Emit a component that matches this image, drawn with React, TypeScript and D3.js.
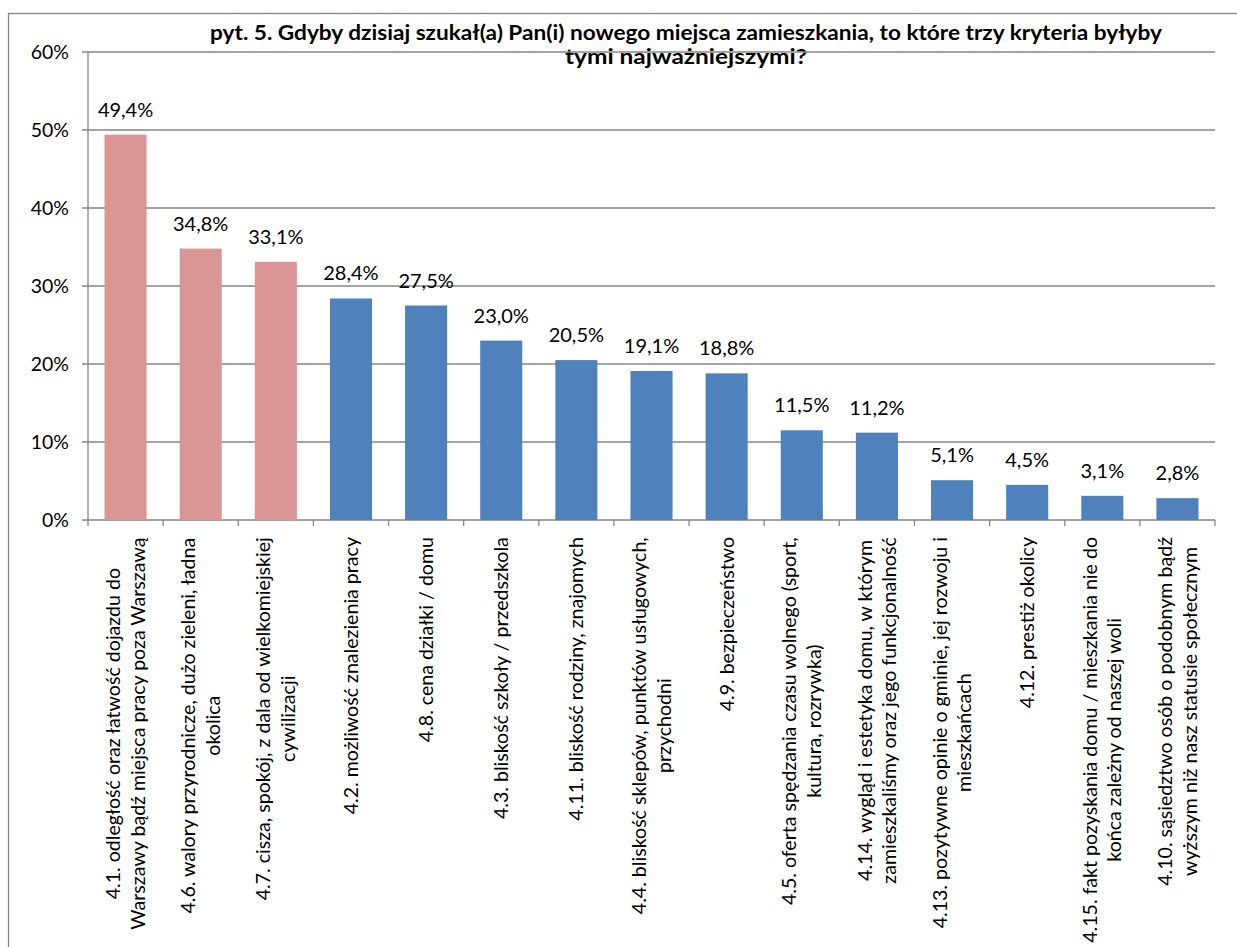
import React, { useMemo } from "react";
import * as d3 from "d3";

const titleLines = [
  "pyt. 5. Gdyby dzisiaj szukał(a) Pan(i) nowego miejsca zamieszkania, to które trzy kryteria byłyby",
  "tymi najważniejszymi?",
];

const categories: string[][] = [
  ["4.1. odległość oraz łatwość dojazdu do", "Warszawy bądź miejsca pracy poza Warszawą"],
  ["4.6. walory przyrodnicze, dużo zieleni, ładna", "okolica"],
  ["4.7. cisza, spokój, z dala od wielkomiejskiej", "cywilizacji"],
  ["4.2. możliwość znalezienia pracy"],
  ["4.8. cena działki / domu"],
  ["4.3. bliskość szkoły / przedszkola"],
  ["4.11. bliskość rodziny, znajomych"],
  ["4.4. bliskość sklepów, punktów usługowych,", "przychodni"],
  ["4.9. bezpieczeństwo"],
  ["4.5. oferta spędzania czasu wolnego (sport,", "kultura, rozrywka)"],
  ["4.14. wygląd i estetyka domu, w którym", "zamieszkaliśmy oraz jego funkcjonalność"],
  ["4.13. pozytywne opinie o gminie, jej rozwoju i", "mieszkańcach"],
  ["4.12. prestiż okolicy"],
  ["4.15. fakt pozyskania domu / mieszkania nie do", "końca zależny od naszej woli"],
  ["4.10. sąsiedztwo osób o podobnym bądź", "wyższym niż nasz statusie społecznym"],
];

const values = [49.4, 34.8, 33.1, 28.4, 27.5, 23.0, 20.5, 19.1, 18.8, 11.5, 11.2, 5.1, 4.5, 3.1, 2.8];
const highlighted = [true, true, true, false, false, false, false, false, false, false, false, false, false, false, false];
const yTicks = [0, 10, 20, 30, 40, 50, 60];

const FONT = "Lato, 'Open Sans', sans-serif";
const W = 1237;
const H = 947;
const plot = { left: 88, right: 1215, top: 52, bottom: 520 };
const labelTop = 537;
const labelFontSize = 19.6;
const lineHeight = 24.5;
const pink = "#D99694";
const blue = "#4F81BD";
const gridColor = "#868686";

function useMeasure() {
  return useMemo(() => {
    const canvas = document.createElement("canvas");
    const ctx = canvas.getContext("2d")!;
    return (text: string, size: number, weight = "normal") => {
      ctx.font = `${weight} ${size}px Lato`;
      return ctx.measureText(text).width;
    };
  }, []);
}

export default function App() {
  const measure = useMeasure();
  const x = d3
    .scaleBand<number>()
    .domain(d3.range(values.length))
    .range([plot.left, plot.right])
    .paddingInner(0.44)
    .paddingOuter(0.22);
  const xc = d3.scaleBand<number>().domain(d3.range(values.length)).range([plot.left, plot.right]);
  const y = d3.scaleLinear().domain([0, 60]).range([plot.bottom, plot.top]);
  const fmt = (v: number) => v.toFixed(1).replace(".", ",") + "%";

  return (
    <svg
      width={W}
      height={H}
      style={{ position: "absolute", left: 0, top: 0, background: "#fff" }}
      fontFamily={FONT}
    >
      <rect x={8.5} y={13.5} width={1300} height={1000} fill="#fff" stroke={gridColor} strokeWidth={1.3} />
      {/* title */}
      {titleLines.map((t, i) => (
        <text
          key={i}
          x={686}
          y={40 + i * 24}
          textAnchor="middle"
          fontWeight="bold"
          fontSize={20}
          fill="#000"
          textLength={i === 0 ? 952 : 242}
          lengthAdjust="spacingAndGlyphs"
        >
          {t}
        </text>
      ))}
      {/* gridlines */}
      {yTicks.map((t) => (
        <g key={t}>
          <line x1={plot.left - 6} x2={plot.right} y1={y(t)} y2={y(t)} stroke={gridColor} strokeWidth={1.3} />
          <text x={69} y={y(t)} dy="0.35em" textAnchor="end" fontSize={19.5} fill="#000">
            {t}%
          </text>
        </g>
      ))}
      {/* y axis */}
      <line x1={plot.left} x2={plot.left} y1={plot.top} y2={plot.bottom} stroke={gridColor} strokeWidth={1.3} />
      {/* category ticks */}
      {d3.range(values.length + 1).map((i) => {
        const xx = i < values.length ? xc(i)! : plot.right;
        return <line key={i} x1={xx} x2={xx} y1={plot.bottom} y2={plot.bottom + 6} stroke={gridColor} strokeWidth={1.3} />;
      })}
      {/* bars */}
      {values.map((v, i) => (
        <rect
          key={i}
          x={x(i)}
          y={y(v)}
          width={x.bandwidth()}
          height={y(0) - y(v)}
          fill={highlighted[i] ? pink : blue}
        />
      ))}
      {/* data labels */}
      {values.map((v, i) => (
        <text key={i} x={x(i)! + x.bandwidth() / 2} y={y(v) - 18} textAnchor="middle" fontSize={20} fill="#000">
          {fmt(v)}
        </text>
      ))}
      {/* category labels */}
      {categories.map((lines, i) => {
        const cx = xc(i)! + xc.bandwidth() / 2;
        const maxW = Math.max(...lines.map((l) => measure(l, labelFontSize)));
        const n = lines.length;
        return (
          <g key={i} transform={`translate(${cx},${labelTop}) rotate(-90)`}>
            {lines.map((l, j) => (
              <text
                key={j}
                x={-maxW / 2}
                y={(j - (n - 1) / 2) * lineHeight}
                dy="0.35em"
                textAnchor="middle"
                fontSize={labelFontSize}
                fill="#000"
              >
                {l}
              </text>
            ))}
          </g>
        );
      })}
    </svg>
  );
}
